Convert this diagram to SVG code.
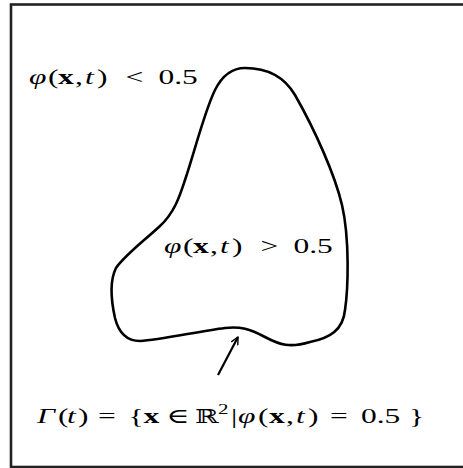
<svg xmlns="http://www.w3.org/2000/svg" width="463" height="468" viewBox="0 0 463 468">
<style>
.lbl{font-family:"Liberation Serif","DejaVu Serif",serif;font-size:21px;font-weight:normal;fill:#000}
.it{font-style:italic}
.bf{font-weight:bold}
.curve{fill:none;stroke:#000;stroke-width:2.6;stroke-linejoin:round}
.conn{fill:none;stroke:#000;stroke-width:2.2}
</style>
<defs>
<marker id="open" viewBox="0 0 10 10" refX="9" refY="5" markerWidth="4" markerHeight="4" orient="auto" markerUnits="strokeWidth">
<path d="M1,1 L9,5 L1,9" fill="none" stroke="#000" stroke-width="1.6" stroke-linecap="round" stroke-linejoin="round"/>
</marker>
</defs>
<rect id="frame" x="11" y="4.5" width="462" height="462.5" fill="#fff" stroke="#222" stroke-width="2.6"/>
<g id="interface">
<path class="curve" d="M245 68 C270 68,285 78,295 95 C315 130,335 175,342 205 C350 240,348 290,345 310 C343 330,330 338,310 342 C290 348,280 345,265 337 C250 329,240 326,225 328 C200 331,160 340,140 341 C125 341,118 330,115 318 C111 300,110 280,116 268 C125 255,145 240,160 226 C175 212,180 195,185 180 C195 150,205 110,215 90 C222 76,232 68,245 68 Z"/>
</g>
<g id="label-outside">
<text class="lbl" transform="translate(29 84) scale(1.5 1)"><tspan class="it" x="0">φ</tspan><tspan x="12.7">(</tspan><tspan class="bf" x="19.3">x</tspan><tspan x="30.7">,</tspan><tspan class="it" x="37.3">t</tspan><tspan x="45.3">)</tspan><tspan x="64.3">&lt;</tspan><tspan x="86.3">0.5</tspan></text>
</g>
<g id="label-inside">
<text class="lbl" transform="translate(164 253) scale(1.5 1)"><tspan class="it" x="0">φ</tspan><tspan x="12.7">(</tspan><tspan class="bf" x="19.3">x</tspan><tspan x="30.7">,</tspan><tspan class="it" x="37.3">t</tspan><tspan x="45.3">)</tspan><tspan x="64.3">&gt;</tspan><tspan x="86.3">0.5</tspan></text>
</g>
<g id="label-gamma">
<text class="lbl" transform="translate(37 423) scale(1.5 1)"><tspan class="it" x="0">Γ</tspan><tspan x="14">(</tspan><tspan class="it" x="20">t</tspan><tspan x="27.3">)</tspan><tspan x="40.7">=</tspan><tspan x="61">{</tspan><tspan class="bf" x="71">x</tspan><tspan x="86.3">∈</tspan><tspan x="105.3" font-size="19">ℝ</tspan><tspan x="120.7" dy="-9" font-size="14">2</tspan><tspan x="129.3" dy="9">|</tspan><tspan class="it" x="134">φ</tspan><tspan x="147.3">(</tspan><tspan class="bf" x="154.7">x</tspan><tspan x="166">,</tspan><tspan class="it" x="172.7">t</tspan><tspan x="180.7">)</tspan><tspan x="195.3">=</tspan><tspan x="216">0.5</tspan><tspan x="248">}</tspan></text>
</g>
<g id="connectors">
<line class="conn" x1="218" y1="375" x2="238" y2="337" marker-end="url(#open)"/>
</g>
</svg>
